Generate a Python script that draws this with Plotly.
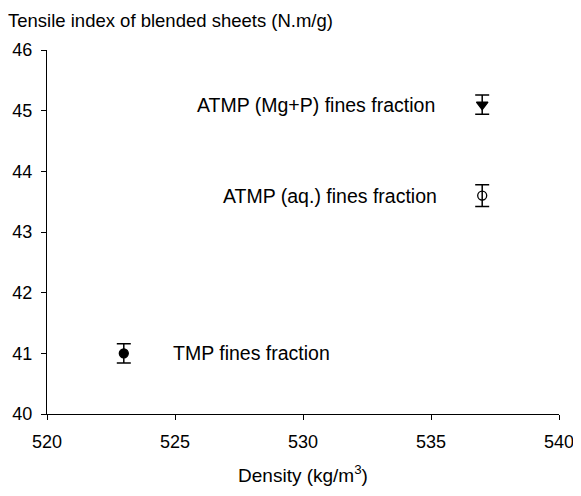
import plotly.graph_objects as go

labels = ["ATMP (Mg+P) fines fraction", "ATMP (aq.) fines fraction", "TMP fines fraction"]
density = [537, 537, 523]
tensile = [45.1, 43.6, 41.0]
errors = [0.16, 0.18, 0.16]
symbols = ["triangle-down", "circle-open", "circle"]
x_ticks = [520, 525, 530, 535, 540]
y_ticks = [40, 41, 42, 43, 44, 45, 46]

fig = go.Figure()
for lab, x, y, e, s in zip(labels, density, tensile, errors, symbols):
    fig.add_trace(go.Scatter(
        x=[x], y=[y], mode="markers", name=lab,
        marker=dict(symbol=s, size=9 if s != "triangle-down" else 10, color="black",
                    line=dict(color="black", width=1.3)),
        error_y=dict(type="data", array=[e], color="black", thickness=1.5, width=7),
        showlegend=False,
    ))

# label annotations
anchors = ["right", "right", "left"]
shifts = [-45, -43, 47]
for lab, x, y, a, sh in zip(labels, density, tensile, anchors, shifts):
    fig.add_annotation(x=x, y=y, text=lab, showarrow=False, xanchor=a, xshift=sh,
                       yanchor="middle", font=dict(size=19.5, color="black"))

# page body has an 8px default margin; margins compensate for it
fig.update_layout(
    width=581, height=496,
    margin=dict(l=39, r=30, t=42, b=90),
    paper_bgcolor="white", plot_bgcolor="white",
    font=dict(family="Liberation Sans, Arial, sans-serif", size=18, color="black"),
    title=dict(text="Tensile index of blended sheets (N.m/g)", x=0.0, xanchor="left",
               xref="container", y=0.988, yanchor="top", yref="container",
               font=dict(size=18.5)),
)
fig.update_xaxes(range=[520, 540], tickvals=x_ticks, showline=True, linecolor="black",
                 linewidth=1.3, ticks="outside", ticklen=5, tickcolor="black",
                 showgrid=False, zeroline=False, automargin=False,
                 ticklabelstandoff=6, tickfont=dict(size=18),
                 title=dict(text="Density (kg/m<sup>3</sup>)", standoff=17,
                            font=dict(size=19)))
fig.update_yaxes(range=[40, 46], tickvals=y_ticks, showline=True, linecolor="black",
                 linewidth=1.3, ticks="outside", ticklen=5, tickcolor="black",
                 showgrid=False, zeroline=False, automargin=False,
                 ticklabelstandoff=5, tickfont=dict(size=18))

fig.write_html("out.html")
